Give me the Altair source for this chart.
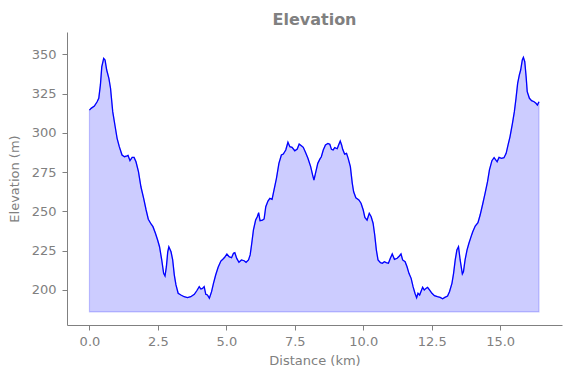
import altair as alt
import pandas as pd

distance_km = [0.00, 0.06, 0.18, 0.28, 0.34, 0.40, 0.45, 0.52, 0.57, 0.63, 0.71, 0.77, 0.85, 0.94, 1.01, 1.09,
               1.19, 1.28, 1.37, 1.41, 1.48, 1.56, 1.63, 1.70, 1.79, 1.88, 1.98, 2.07, 2.15, 2.25, 2.32, 2.41,
               2.49, 2.56, 2.64, 2.71, 2.76, 2.81, 2.86, 2.90, 2.98, 3.04, 3.10, 3.16, 3.24, 3.34, 3.46, 3.58,
               3.70, 3.83, 3.92, 4.01, 4.07, 4.13, 4.19, 4.25, 4.31, 4.38, 4.46, 4.53, 4.61, 4.70, 4.80, 4.88,
               4.94, 5.02, 5.10, 5.19, 5.26, 5.31, 5.38, 5.46, 5.55, 5.65, 5.72, 5.81, 5.87, 5.92, 5.99, 6.07,
               6.13, 6.18, 6.23, 6.32, 6.38, 6.44, 6.52, 6.59, 6.67, 6.74, 6.83, 6.92, 7.01, 7.08, 7.17, 7.25,
               7.32, 7.40, 7.50, 7.59, 7.66, 7.74, 7.81, 7.89, 7.98, 8.08, 8.15, 8.20, 8.27, 8.34, 8.42, 8.47,
               8.54, 8.62, 8.71, 8.78, 8.84, 8.90, 8.96, 9.05, 9.10, 9.16, 9.21, 9.25, 9.32, 9.39, 9.45, 9.53,
               9.60, 9.65, 9.73, 9.84, 9.92, 10.00, 10.06, 10.14, 10.22, 10.29, 10.36, 10.42, 10.48, 10.54,
               10.63, 10.70, 10.77, 10.84, 10.92, 10.99, 11.06, 11.14, 11.24, 11.32, 11.38, 11.44, 11.53,
               11.60, 11.67, 11.75, 11.82, 11.89, 11.95, 12.00, 12.06, 12.17, 12.23, 12.29, 12.35, 12.42,
               12.51, 12.60, 12.71, 12.81, 12.90, 12.98, 13.08, 13.15, 13.24, 13.30, 13.36, 13.42, 13.48,
               13.54, 13.62, 13.66, 13.72, 13.79, 13.86, 13.93, 14.00, 14.09, 14.19, 14.27, 14.37, 14.45,
               14.54, 14.61, 14.70, 14.78, 14.89, 14.96, 15.05, 15.14, 15.22, 15.29, 15.36, 15.45, 15.52,
               15.58, 15.64, 15.70, 15.75, 15.81, 15.85, 15.90, 15.95, 15.99, 16.07, 16.15, 16.24, 16.31,
               16.36, 16.42]

elevation_m = [314.5, 315.6, 317.1, 319.8, 322.0, 330.5, 342.0, 347.4, 346.4, 340.0, 334.7, 328.4, 313.5, 303.9,
               296.5, 291.2, 285.9, 284.8, 285.3, 285.6, 282.3, 284.4, 284.4, 281.6, 275.3, 265.7, 258.3, 250.9,
               245.0, 242.0, 240.3, 236.1, 231.8, 227.5, 219.1, 210.6, 208.9, 214.8, 224.3, 227.5, 224.3, 219.1,
               209.5, 203.2, 197.9, 196.8, 195.7, 195.1, 195.7, 197.2, 199.5, 202.1, 200.6, 201.0, 202.1, 197.2,
               196.8, 194.7, 198.9, 204.2, 209.5, 214.4, 218.4, 219.7, 220.8, 222.9, 221.2, 220.5, 223.3, 223.7,
               220.1, 217.6, 219.1, 218.6, 217.6, 219.1, 222.3, 228.6, 238.2, 244.5, 246.6, 249.2, 244.1, 244.5,
               245.2, 253.0, 256.6, 258.3, 257.7, 263.6, 271.1, 280.6, 285.9, 286.5, 289.1, 294.0, 291.2, 290.8,
               288.6, 289.7, 292.9, 291.8, 290.8, 287.6, 283.8, 278.5, 273.2, 270.0, 275.3, 280.6, 283.4, 284.8,
               289.1, 292.3, 293.3, 292.7, 289.5, 289.1, 290.6, 289.9, 292.3, 294.8, 292.3, 289.5, 286.5, 287.0,
               283.8, 278.5, 267.9, 262.5, 258.7, 257.3, 255.2, 250.9, 246.2, 244.5, 248.8, 246.6, 242.5, 235.0,
               225.4, 219.1, 217.4, 217.0, 218.0, 217.4, 217.0, 220.2, 222.9, 219.5, 220.2, 221.6, 222.9, 219.1,
               218.0, 214.8, 210.6, 207.4, 202.1, 197.9, 195.1, 197.9, 196.8, 201.7, 200.0, 201.0, 201.7, 200.0,
               197.9, 196.4, 195.7, 195.3, 194.4, 195.3, 196.1, 198.9, 204.2, 210.6, 219.1, 225.4, 227.5, 219.1,
               210.2, 211.6, 219.1, 225.4, 229.7, 233.5, 237.1, 240.7, 242.8, 247.7, 255.2, 261.5, 268.9, 276.4,
               282.3, 284.2, 281.6, 284.4, 283.8, 284.2, 287.0, 292.3, 297.5, 306.1, 313.5, 322.0, 331.5, 336.8,
               340.0, 346.4, 348.1, 345.3, 335.7, 326.2, 322.0, 320.5, 319.8, 318.8, 317.7, 319.8]

fill_base_m = 186.0
x_ticks = [0.0, 2.5, 5.0, 7.5, 10.0, 12.5, 15.0]
y_ticks = [200, 225, 250, 275, 300, 325, 350]

df = pd.DataFrame({"d": distance_km, "e": elevation_m})
df["base"] = fill_base_m

FONT = "DejaVu Sans"
GRAY = "#808080"

x_enc = alt.X("d:Q",
              scale=alt.Scale(domain=[-0.82, 17.26], nice=False, zero=False),
              axis=alt.Axis(title="Distance (km)", values=x_ticks, format=".1f",
                            grid=False, titlePadding=6))
y_scale = alt.Scale(domain=[177.7, 364.2], nice=False, zero=False)
y_axis = alt.Axis(title="Elevation (m)", values=y_ticks, grid=False, titlePadding=10)

area = alt.Chart(df).mark_area(color="blue", fillOpacity=0.2, stroke="blue",
                               strokeOpacity=0.2, strokeWidth=1.2).encode(
    x=x_enc,
    y=alt.Y("e:Q", scale=y_scale, axis=y_axis),
    y2="base:Q",
)

line = alt.Chart(df).mark_line(color="blue", strokeWidth=1.3).encode(
    x=alt.X("d:Q"),
    y=alt.Y("e:Q"),
)

chart = (area + line).properties(
    width=495,
    height=293,
    autosize=alt.AutoSizeParams(type="none"),
    padding={"left": 67, "top": 32, "right": 9, "bottom": 53},
    title=alt.TitleParams("Elevation", font=FONT, fontSize=16, fontWeight="bold",
                          color=GRAY, anchor="middle", baseline="alphabetic", offset=7, dy=16),
).configure_view(stroke=None).configure_axis(
    labelFont=FONT, titleFont=FONT, labelFontSize=13, titleFontSize=13,
    labelColor=GRAY, titleColor=GRAY, titleFontWeight="normal",
    domainColor=GRAY, tickColor=GRAY, tickSize=5, labelPadding=5,
    domainWidth=1, tickWidth=1,
).configure_axisY(labelPadding=6)

chart.save("out.html", embed_options={"renderer": "svg", "actions": False})
